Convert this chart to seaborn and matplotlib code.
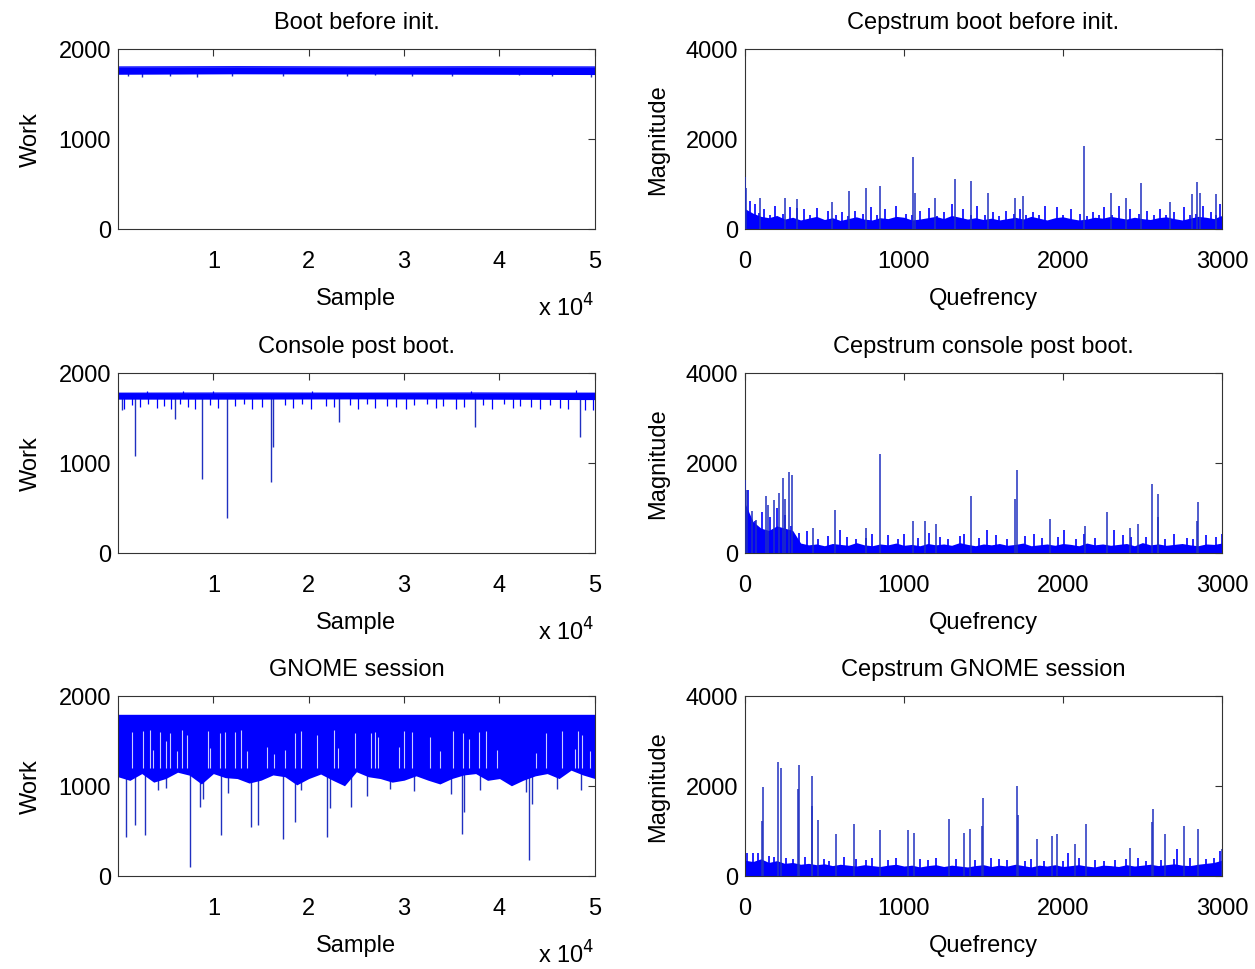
import numpy as np
import matplotlib
matplotlib.use("Agg")
import matplotlib.pyplot as plt
import seaborn as sns

# values

# left column: work per sample, band (lo/hi) + spikes (sample, value)
boot_knots = [0, 12500, 25000, 37500, 50000]
boot_lo = [1715, 1720, 1718, 1715, 1712]
boot_hi = [1795, 1798, 1795, 1797, 1795]
boot_dips = [(1000, 1700), (2480, 1690), (5450, 1695), (8240, 1690), (12000, 1700),
             (17330, 1700), (23960, 1695), (27000, 1702), (30780, 1698), (35000, 1700),
             (42000, 1702), (45500, 1700), (49640, 1690)]

console_knots = [0, 12500, 25000, 37500, 50000]
console_lo = [1705, 1705, 1708, 1705, 1700]
console_hi = [1770, 1772, 1770, 1772, 1770]
console_fringe = [(600, 1600), (1500, 1640), (2300, 1620), (3200, 1650), (4100, 1610),
                  (4800, 1630), (5600, 1600), (6500, 1650), (7300, 1620), (8100, 1600),
                  (9700, 1640), (10500, 1610), (12300, 1630), (13200, 1650), (14000, 1600),
                  (15100, 1620), (17500, 1640), (18400, 1610), (19300, 1650), (20200, 1600),
                  (21800, 1630), (22600, 1620), (24300, 1640), (25200, 1600), (26100, 1650),
                  (27000, 1610), (28200, 1630), (29100, 1620), (30200, 1600), (31000, 1640),
                  (32400, 1650), (33300, 1610), (34100, 1630), (35400, 1600), (36300, 1620),
                  (38300, 1640), (39200, 1600), (40500, 1650), (41400, 1610), (42200, 1630),
                  (43300, 1620), (44200, 1600), (45300, 1640), (46300, 1610), (47200, 1600),
                  (49000, 1580), (49800, 1590)]
console_dips = [(380, 1585), (1748, 1077), (5935, 1486), (8830, 821), (11450, 390),
                (16090, 785), (16300, 1180), (23170, 1450), (37440, 1395), (48430, 1285)]
console_bumps = [(3000, 1790), (6800, 1800), (10000, 1795), (20300, 1795),
                 (37000, 1790), (48000, 1805)]

gnome_knots = list(range(0, 50001, 1250))
gnome_lo = [1100, 1060, 1135, 1040, 1080, 1150, 1117, 1020, 1135, 1090,
            1080, 1030, 1062, 1120, 1100, 1010, 1080, 1130, 1062, 1000,
            1155, 1100, 1080, 1040, 1062, 1110, 1062, 1020, 1080, 1120,
            1135, 1060, 1080, 1000, 1062, 1110, 1135, 1080, 1173, 1120,
            1080]
gnome_hi = [1790] * len(gnome_lo)
gnome_gaps = [(1505, 1600), (2620, 1610), (3320, 1615), (3665, 1400), (4365, 1600),
              (4990, 1500), (5410, 1580), (6215, 1380), (6740, 1620), (7190, 1560),
              (9460, 1610), (9700, 1420), (10650, 1580), (11200, 1600), (12320, 1600),
              (12950, 1615), (13540, 1380), (15640, 1430), (16330, 1350), (17550, 1400),
              (18600, 1590), (19190, 1610), (20870, 1560), (22680, 1620), (23060, 1420),
              (24880, 1580), (26520, 1590), (26970, 1600), (27250, 1540), (29420, 1430),
              (29940, 1610), (30810, 1600), (32730, 1540), (33780, 1380), (35100, 1610),
              (36150, 1580), (36810, 1520), (37900, 1600), (38560, 1610), (39710, 1400),
              (43790, 1360), (44840, 1590), (46510, 1610), (47910, 1410), (48260, 1610),
              (48680, 1560), (49480, 1380)]
gnome_dips = [(800, 430), (1780, 560), (2800, 450), (4200, 950), (5000, 980), (7600, 100),
              (8620, 770), (8900, 850), (10750, 450), (11500, 920), (13960, 540),
              (14700, 560), (17310, 405), (18600, 600), (19200, 950), (21920, 430),
              (22200, 750), (24430, 770), (26100, 890), (28500, 960), (31000, 940),
              (34950, 910), (36050, 470), (36330, 710), (38000, 950), (42770, 930),
              (43120, 175), (43400, 800), (46000, 960), (48500, 950)]

# right column: cepstrum magnitude, dense floor + minor / major peaks (quefrency, value)
floor_q = list(range(0, 3001, 50))
cb_floor = [450, 350, 280, 250, 300, 220, 260, 200, 240, 280,
            210, 250, 190, 230, 270, 220, 200, 250, 230, 280,
            260, 200, 220, 250, 280, 230, 300, 260, 220, 250,
            210, 240, 200, 230, 260, 220, 280, 240, 200, 250,
            270, 230, 200, 220, 260, 240, 280, 250, 220, 260,
            230, 210, 250, 270, 230, 200, 240, 280, 260, 230,
            300]
cb_minor = [(30, 630), (60, 560), (90, 350), (120, 444), (160, 300), (190, 520), (240, 330),
            (285, 480), (330, 470), (370, 444), (410, 300), (450, 470), (520, 407),
            (570, 320), (610, 370), (650, 280), (690, 407), (740, 330), (790, 480),
            (830, 300), (880, 444), (950, 520), (1010, 333), (1050, 300), (1100, 407),
            (1160, 470), (1210, 290), (1250, 370), (1300, 555), (1370, 444), (1420, 320),
            (1460, 500), (1510, 300), (1560, 370), (1600, 280), (1640, 400), (1690, 330),
            (1730, 444), (1770, 300), (1810, 370), (1850, 320), (1890, 518), (1960, 480),
            (2000, 300), (2050, 440), (2110, 333), (2150, 290), (2190, 370), (2230, 320),
            (2260, 480), (2310, 300), (2350, 518), (2420, 450), (2480, 330), (2530, 407),
            (2570, 300), (2610, 444), (2650, 320), (2700, 370), (2760, 480), (2800, 300),
            (2840, 330), (2880, 520), (2930, 370), (2960, 300), (2990, 555)]
cb_major = [(0, 1150), (8, 900), (94, 680), (252, 680), (325, 660), (545, 600), (654, 850),
            (759, 910), (849, 960), (1059, 1590), (1070, 800), (1195, 680), (1321, 1110),
            (1420, 1060), (1531, 800), (1698, 680), (1749, 740), (2133, 1835), (2300, 800),
            (2400, 680), (2491, 1015), (2673, 590), (2810, 770), (2846, 1040), (2860, 800),
            (2963, 770)]

cc_floor = [1100, 700, 550, 500, 600, 550, 500,
            220, 180, 200, 160, 210, 190, 170, 230, 180, 160,
            200, 180, 220, 170, 190, 160, 210, 180, 200, 170,
            230, 190, 160, 200, 180, 210, 170, 190, 220, 160,
            180, 200, 170, 210, 190, 160, 220, 180, 200, 170,
            190, 210, 160, 230, 180, 200, 170, 190, 210, 180,
            160, 200, 190, 220]
cc_minor = [(20, 1400), (60, 700), (110, 900), (160, 800), (200, 1000), (250, 850),
            (290, 600), (340, 450), (390, 480), (460, 300), (520, 380), (600, 500),
            (640, 350), (700, 300), (760, 330), (800, 420), (900, 400), (960, 300),
            (1000, 420), (1090, 330), (1160, 450), (1230, 350), (1280, 300), (1350, 380),
            (1380, 420), (1470, 330), (1520, 500), (1580, 400), (1650, 300), (1760, 380),
            (1820, 420), (1870, 330), (1970, 350), (2010, 500), (2080, 300), (2130, 420),
            (2200, 330), (2320, 500), (2380, 400), (2430, 360), (2520, 350), (2640, 320),
            (2700, 430), (2780, 330), (2820, 300), (2900, 400), (2960, 350), (3000, 420)]
cc_major = [(0, 1620), (10, 1400), (44, 930), (69, 735), (132, 1270), (145, 1060),
            (184, 1175), (214, 1325), (237, 1660), (250, 1200), (279, 1805), (298, 1720),
            (430, 555), (566, 945), (760, 555), (847, 2200), (1059, 715), (1131, 715),
            (1200, 640), (1420, 1270), (1700, 1200), (1709, 1830), (1916, 750), (2142, 590),
            (2275, 900), (2420, 555), (2472, 640), (2558, 1540), (2596, 1300), (2600, 800),
            (2845, 700), (2851, 1120)]

cg_floor = [350, 320, 380, 300, 340, 280, 300, 260, 280, 250,
            270, 230, 260, 240, 220, 250, 230, 210, 240, 260,
            220, 240, 200, 230, 250, 210, 240, 220, 200, 230,
            250, 210, 240, 220, 260, 230, 200, 240, 220, 250,
            210, 230, 250, 220, 200, 240, 230, 210, 250, 220,
            240, 260, 230, 250, 270, 240, 230, 260, 280, 300,
            350]
cg_minor = [(10, 500), (50, 514), (80, 520), (150, 450), (180, 430), (260, 400), (300, 380),
            (380, 420), (500, 380), (530, 330), (620, 420), (700, 380), (760, 350),
            (800, 400), (900, 350), (950, 400), (1100, 380), (1150, 350), (1200, 400),
            (1330, 370), (1450, 350), (1550, 400), (1600, 380), (1650, 350), (1760, 330),
            (1800, 370), (1880, 330), (2000, 340), (2030, 500), (2100, 400), (2200, 350),
            (2260, 330), (2330, 350), (2400, 380), (2470, 400), (2520, 330), (2620, 350),
            (2700, 370), (2720, 600), (2800, 400), (2900, 370), (2950, 400), (2990, 550)]
cg_major = [(105, 1220), (111, 1980), (205, 2530), (224, 2400), (335, 1930), (342, 2460),
            (420, 1560), (424, 2215), (459, 1250), (572, 935), (686, 1160), (849, 1030),
            (1027, 1030), (1065, 960), (1283, 1270), (1380, 960), (1417, 1045), (1490, 1100),
            (1499, 1725), (1709, 2000), (1720, 1350), (1840, 810), (1930, 880), (1960, 935),
            (2075, 715), (2143, 1160), (2421, 630), (2560, 1200), (2568, 1490), (2643, 935),
            (2762, 1110), (2851, 1040), (3000, 590)]

titles_left = ["Boot before init.", "Console post boot.", "GNOME session"]
titles_right = ["Cepstrum boot before init.", "Cepstrum console post boot.",
                "Cepstrum GNOME session"]

BLUE = "#0000ff"
SPIKE = "#2030c0"

sns.set_theme(style="white")
plt.rcParams['font.family'] = ['Liberation Sans', 'DejaVu Sans']
plt.rcParams['axes.edgecolor'] = '#333333'
plt.rcParams['axes.linewidth'] = 0.8
for key in ['text.color', 'axes.labelcolor', 'xtick.color', 'ytick.color']:
    plt.rcParams[key] = 'black'

fig = plt.figure(figsize=(12.55, 9.7), dpi=100)
bottoms = [0.7629, 0.4289, 0.0959]
left_axes = [fig.add_axes([0.094, b, 0.380, 0.186]) for b in bottoms]
right_axes = [fig.add_axes([0.5936, b, 0.380, 0.186]) for b in bottoms]


def style(ax, title, xlabel, ylabel):
    ax.set_title(title, fontsize=17, pad=15)
    ax.set_xlabel(xlabel, fontsize=17, labelpad=11)
    ax.set_ylabel(ylabel, fontsize=17, labelpad=12)
    ax.tick_params(direction='in', top=True, right=True, length=5, width=0.8,
                   labelsize=17, color='#333333')
    ax.tick_params(axis='x', pad=15)
    ax.tick_params(axis='y', pad=5)
    for s in ax.spines.values():
        s.set_visible(True)


def draw_work(ax, knots, lo, hi, dips, fringe=None, bumps=None, gaps=None):
    d = np.array(dips)
    ax.vlines(d[:, 0], d[:, 1], 1750, color=SPIKE, lw=1.0, zorder=1)
    if fringe is not None:
        f = np.array(fringe)
        ax.vlines(f[:, 0], f[:, 1], 1720, color=BLUE, lw=0.9, zorder=1)
    if bumps is not None:
        b = np.array(bumps)
        ax.vlines(b[:, 0], 1740, b[:, 1], color=BLUE, lw=0.9, zorder=1)
    ax.fill_between(knots, lo, hi, color=BLUE, lw=0, zorder=2)
    sns.lineplot(x=knots, y=hi, color=BLUE, lw=1, ax=ax, zorder=2)
    if gaps is not None:
        g = np.array(gaps)
        ax.vlines(g[:, 0], 1200, g[:, 1], color='white', lw=0.8, alpha=0.8, zorder=3)
    ax.set_xlim(0, 50000)
    ax.set_ylim(0, 2000)
    ax.set_xticks([10000, 20000, 30000, 40000, 50000])
    ax.set_xticklabels(['1', '2', '3', '4', '5'])
    ax.set_yticks([0, 1000, 2000])
    ax.text(1.0, -0.43, r'x 10$^{4}$', transform=ax.transAxes, ha='right',
            va='center', fontsize=17)


def draw_cep(ax, floor, minor, major):
    ax.fill_between(floor_q, 0, floor, color=BLUE, lw=0, zorder=1)
    m = np.array(minor)
    ax.vlines(m[:, 0], 0, m[:, 1], color=BLUE, lw=1.2, zorder=2)
    M = np.array(major)
    ax.vlines(M[:, 0], 0, M[:, 1], color=SPIKE, lw=1.1, zorder=3)
    ax.set_xlim(0, 3000)
    ax.set_ylim(0, 4000)
    ax.set_xticks([0, 1000, 2000, 3000])
    ax.set_yticks([0, 2000, 4000])


draw_work(left_axes[0], boot_knots, boot_lo, boot_hi, boot_dips)
draw_work(left_axes[1], console_knots, console_lo, console_hi, console_dips,
          fringe=console_fringe, bumps=console_bumps)
draw_work(left_axes[2], gnome_knots, gnome_lo, gnome_hi, gnome_dips, gaps=gnome_gaps)

draw_cep(right_axes[0], cb_floor, cb_minor, cb_major)
draw_cep(right_axes[1], cc_floor, cc_minor, cc_major)
draw_cep(right_axes[2], cg_floor, cg_minor, cg_major)

for ax, t in zip(left_axes, titles_left):
    style(ax, t, "Sample", "Work")
for ax, t in zip(right_axes, titles_right):
    style(ax, t, "Quefrency", "Magnitude")

fig.savefig("out.png", dpi=100, facecolor="white")
